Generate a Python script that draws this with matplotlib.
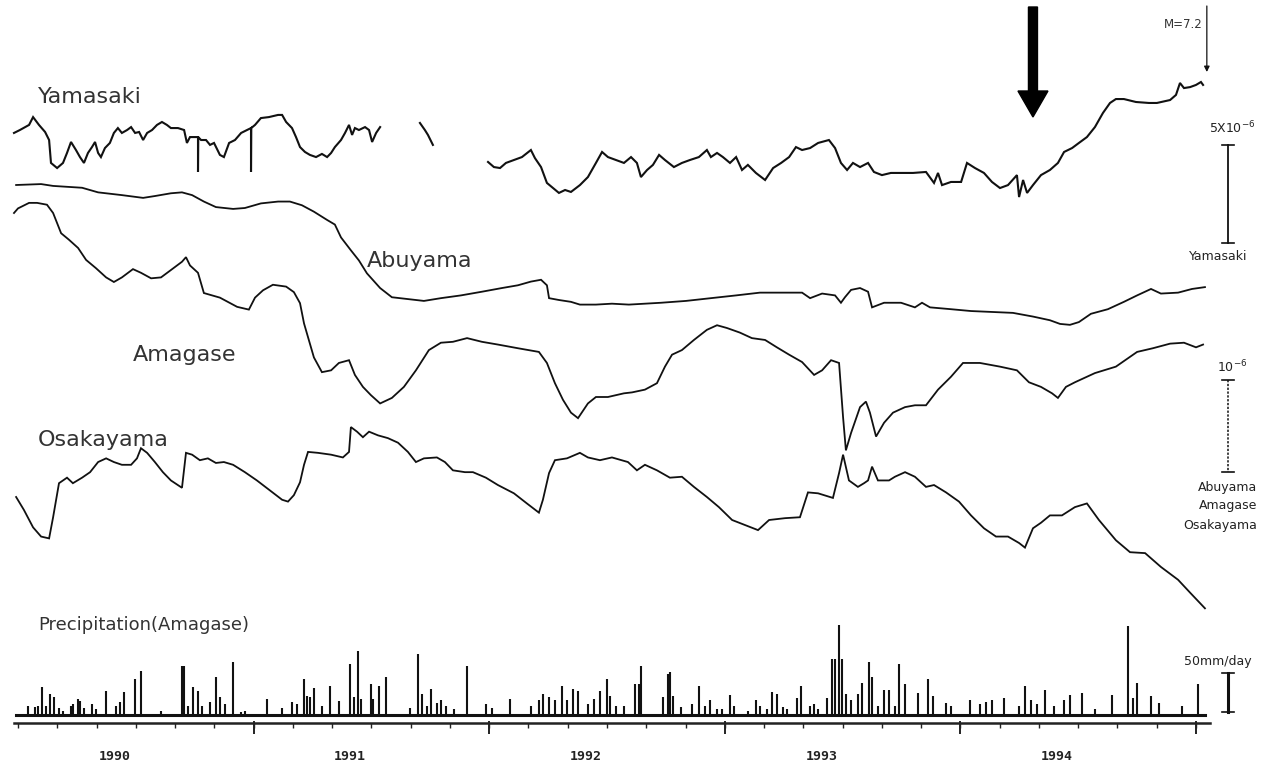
import numpy as np
import matplotlib.pyplot as plt

# strain records before the 1995 Hyogo-ken Nanbu earthquake (M=7.2)
# time in decimal years, strain in units of 1e-6 (relative), rain in mm/day

yamasaki_1 = [
    (1989.983, 1.89), (1990.008, 2.04), (1990.047, 2.30), (1990.064, 2.70), (1990.089, 2.30),
    (1990.115, 1.94), (1990.132, 1.53), (1990.140, 0.36), (1990.166, 0.10), (1990.191, 0.36),
    (1990.208, 0.87), (1990.225, 1.43), (1990.246, 1.02), (1990.263, 0.66), (1990.280, 0.36),
    (1990.297, 0.87), (1990.314, 1.17), (1990.327, 1.43), (1990.340, 0.87), (1990.352, 0.66),
    (1990.369, 1.12), (1990.390, 1.38), (1990.407, 1.89), (1990.424, 2.14), (1990.441, 1.89),
    (1990.463, 2.04), (1990.480, 2.19), (1990.497, 1.89), (1990.514, 1.94), (1990.531, 1.53),
    (1990.548, 1.89), (1990.569, 2.04), (1990.590, 2.30), (1990.611, 2.45), (1990.632, 2.30),
    (1990.649, 2.14), (1990.679, 2.14), (1990.705, 2.04), (1990.717, 1.38), (1990.730, 1.68),
    (1990.751, 1.68), (1990.764, 1.68), (1990.764, -0.10), (1990.765, 1.68), (1990.777, 1.53),
    (1990.798, 1.53), (1990.815, 1.28), (1990.832, 1.38), (1990.857, 0.77), (1990.874, 0.66),
    (1990.896, 1.38), (1990.921, 1.53), (1990.947, 1.89), (1990.972, 2.04), (1990.989, 2.14),
    (1990.989, -0.10), (1990.990, 2.14), (1991.006, 2.30), (1991.031, 2.65), (1991.065, 2.70),
    (1991.104, 2.81), (1991.121, 2.81), (1991.138, 2.45), (1991.163, 2.14), (1991.180, 1.68),
    (1991.197, 1.17), (1991.218, 0.92), (1991.239, 0.77), (1991.265, 0.66), (1991.290, 0.82),
    (1991.312, 0.66), (1991.329, 0.87), (1991.345, 1.17), (1991.371, 1.53), (1991.388, 1.89),
    (1991.405, 2.30), (1991.418, 1.79), (1991.430, 2.14), (1991.447, 2.04), (1991.473, 2.19),
    (1991.490, 2.04), (1991.503, 1.43), (1991.520, 1.89), (1991.537, 2.19),
]
yamasaki_2 = [(1991.706, 2.40), (1991.727, 2.04), (1991.740, 1.79), (1991.761, 1.28)]
yamasaki_3 = [
    (1991.995, 0.41), (1992.020, 0.15), (1992.046, 0.10), (1992.071, 0.36), (1992.105, 0.51),
    (1992.139, 0.66), (1992.177, 1.02), (1992.194, 0.61), (1992.220, 0.15), (1992.245, -0.66),
    (1992.271, -0.92), (1992.296, -1.17), (1992.322, -1.02), (1992.347, -1.12), (1992.385, -0.77),
    (1992.419, -0.36), (1992.453, 0.36), (1992.479, 0.92), (1992.504, 0.66), (1992.538, 0.51),
    (1992.572, 0.36), (1992.602, 0.66), (1992.627, 0.36), (1992.644, -0.36), (1992.670, 0.00),
    (1992.695, 0.26), (1992.721, 0.77), (1992.746, 0.51), (1992.784, 0.15), (1992.818, 0.36),
    (1992.852, 0.51), (1992.890, 0.66), (1992.924, 1.02), (1992.941, 0.66), (1992.967, 0.87),
    (1992.992, 0.66), (1993.022, 0.36), (1993.048, 0.66), (1993.073, 0.00), (1993.098, 0.26),
    (1993.132, -0.15), (1993.171, -0.51), (1993.205, 0.10), (1993.239, 0.36), (1993.273, 0.66),
    (1993.302, 1.17), (1993.328, 1.02), (1993.362, 1.12), (1993.396, 1.38), (1993.442, 1.53),
    (1993.468, 1.12), (1993.493, 0.36), (1993.519, 0.00), (1993.544, 0.36), (1993.574, 0.15),
    (1993.608, 0.36), (1993.633, -0.10), (1993.667, -0.26), (1993.705, -0.15), (1993.748, -0.15),
    (1993.799, -0.15), (1993.854, -0.10), (1993.888, -0.66), (1993.905, -0.15), (1993.922, -0.77),
    (1993.960, -0.61), (1994.003, -0.61), (1994.028, 0.36), (1994.062, 0.10), (1994.100, -0.15),
    (1994.134, -0.61), (1994.168, -0.92), (1994.202, -0.77), (1994.240, -0.26), (1994.249, -1.38),
    (1994.266, -0.51), (1994.283, -1.17), (1994.308, -0.77), (1994.342, -0.26), (1994.380, 0.00),
    (1994.414, 0.36), (1994.440, 0.92), (1994.474, 1.12), (1994.503, 1.38), (1994.537, 1.68),
    (1994.571, 2.19), (1994.605, 2.91), (1994.635, 3.42), (1994.660, 3.62), (1994.694, 3.62),
    (1994.745, 3.47), (1994.800, 3.42), (1994.834, 3.42), (1994.890, 3.57), (1994.915, 3.83),
    (1994.932, 4.44), (1994.949, 4.18), (1994.975, 4.23), (1995.000, 4.34), (1995.021, 4.49),
    (1995.030, 4.34),
]

abuyama = [
    (1989.992, 0.00), (1990.098, 0.01), (1990.149, -0.01), (1990.272, -0.03), (1990.340, -0.08),
    (1990.441, -0.11), (1990.531, -0.14), (1990.581, -0.12), (1990.649, -0.09), (1990.696, -0.08),
    (1990.739, -0.11), (1990.789, -0.18), (1990.840, -0.24), (1990.913, -0.26), (1990.963, -0.25),
    (1991.031, -0.20), (1991.104, -0.18), (1991.154, -0.18), (1991.205, -0.22), (1991.256, -0.29),
    (1991.312, -0.38), (1991.345, -0.43), (1991.371, -0.57), (1991.413, -0.71), (1991.447, -0.82),
    (1991.481, -0.96), (1991.537, -1.12), (1991.587, -1.22), (1991.655, -1.24), (1991.723, -1.26),
    (1991.795, -1.23), (1991.880, -1.20), (1991.969, -1.16), (1992.054, -1.12), (1992.122, -1.09),
    (1992.177, -1.05), (1992.220, -1.03), (1992.245, -1.09), (1992.254, -1.23), (1992.296, -1.25),
    (1992.347, -1.27), (1992.385, -1.30), (1992.453, -1.30), (1992.521, -1.29), (1992.593, -1.30),
    (1992.729, -1.28), (1992.835, -1.26), (1992.941, -1.23), (1993.048, -1.20), (1993.149, -1.17),
    (1993.256, -1.17), (1993.328, -1.17), (1993.362, -1.23), (1993.413, -1.18), (1993.468, -1.20),
    (1993.493, -1.28), (1993.510, -1.22), (1993.536, -1.14), (1993.574, -1.12), (1993.608, -1.16),
    (1993.625, -1.33), (1993.676, -1.28), (1993.748, -1.28), (1993.807, -1.33), (1993.837, -1.28),
    (1993.871, -1.33), (1993.960, -1.35), (1994.045, -1.37), (1994.134, -1.38), (1994.223, -1.39),
    (1994.308, -1.43), (1994.380, -1.47), (1994.423, -1.51), (1994.465, -1.52), (1994.503, -1.49),
    (1994.554, -1.40), (1994.626, -1.35), (1994.694, -1.27), (1994.750, -1.20), (1994.809, -1.13),
    (1994.851, -1.18), (1994.924, -1.17), (1994.983, -1.13), (1995.038, -1.11),
]

amagase = [
    (1989.983, 0.00), (1990.000, 0.05), (1990.047, 0.11), (1990.081, 0.11), (1990.123, 0.09),
    (1990.149, 0.00), (1990.183, -0.22), (1990.216, -0.29), (1990.255, -0.38), (1990.289, -0.51),
    (1990.331, -0.60), (1990.374, -0.70), (1990.407, -0.75), (1990.441, -0.70), (1990.488, -0.61),
    (1990.522, -0.65), (1990.565, -0.71), (1990.607, -0.70), (1990.649, -0.62), (1990.696, -0.53),
    (1990.713, -0.48), (1990.730, -0.57), (1990.764, -0.65), (1990.789, -0.87), (1990.857, -0.92),
    (1990.930, -1.02), (1990.980, -1.05), (1991.006, -0.92), (1991.040, -0.84), (1991.082, -0.78),
    (1991.138, -0.80), (1991.171, -0.86), (1991.197, -0.98), (1991.214, -1.20), (1991.231, -1.35),
    (1991.256, -1.57), (1991.290, -1.73), (1991.329, -1.71), (1991.362, -1.63), (1991.405, -1.60),
    (1991.430, -1.76), (1991.464, -1.89), (1991.498, -1.98), (1991.537, -2.07), (1991.587, -2.01),
    (1991.638, -1.89), (1991.689, -1.71), (1991.744, -1.49), (1991.795, -1.41), (1991.846, -1.40),
    (1991.906, -1.36), (1991.969, -1.40), (1992.037, -1.43), (1992.122, -1.47), (1992.211, -1.51),
    (1992.245, -1.63), (1992.279, -1.85), (1992.313, -2.03), (1992.347, -2.17), (1992.377, -2.23),
    (1992.419, -2.07), (1992.453, -2.00), (1992.504, -2.00), (1992.572, -1.96), (1992.606, -1.95),
    (1992.661, -1.92), (1992.712, -1.85), (1992.746, -1.67), (1992.776, -1.54), (1992.818, -1.49),
    (1992.869, -1.38), (1992.924, -1.27), (1992.967, -1.22), (1993.009, -1.25), (1993.064, -1.30),
    (1993.115, -1.36), (1993.171, -1.38), (1993.221, -1.46), (1993.273, -1.54), (1993.328, -1.62),
    (1993.379, -1.76), (1993.413, -1.71), (1993.451, -1.60), (1993.485, -1.63), (1993.502, -2.22),
    (1993.514, -2.58), (1993.536, -2.39), (1993.574, -2.11), (1993.599, -2.05), (1993.616, -2.17),
    (1993.642, -2.43), (1993.676, -2.28), (1993.714, -2.17), (1993.765, -2.11), (1993.807, -2.09),
    (1993.854, -2.09), (1993.905, -1.92), (1993.960, -1.78), (1994.011, -1.63), (1994.083, -1.63),
    (1994.168, -1.67), (1994.240, -1.71), (1994.291, -1.84), (1994.342, -1.89), (1994.389, -1.96),
    (1994.414, -2.01), (1994.448, -1.89), (1994.486, -1.84), (1994.571, -1.74), (1994.660, -1.67),
    (1994.750, -1.51), (1994.817, -1.47), (1994.890, -1.42), (1994.949, -1.41), (1995.000, -1.46),
    (1995.030, -1.43),
]

osakayama = [
    (1989.992, 0.00), (1990.025, -0.14), (1990.064, -0.33), (1990.098, -0.43), (1990.132, -0.45),
    (1990.149, -0.22), (1990.174, 0.15), (1990.208, 0.21), (1990.233, 0.15), (1990.272, 0.21),
    (1990.306, 0.27), (1990.340, 0.38), (1990.374, 0.42), (1990.407, 0.38), (1990.441, 0.35),
    (1990.480, 0.35), (1990.505, 0.42), (1990.522, 0.53), (1990.548, 0.48), (1990.581, 0.38),
    (1990.615, 0.27), (1990.649, 0.18), (1990.696, 0.10), (1990.713, 0.48), (1990.739, 0.46),
    (1990.772, 0.40), (1990.806, 0.42), (1990.840, 0.37), (1990.874, 0.38), (1990.913, 0.35),
    (1990.963, 0.27), (1991.014, 0.18), (1991.065, 0.08), (1991.121, -0.03), (1991.146, -0.05),
    (1991.171, 0.02), (1991.197, 0.16), (1991.214, 0.35), (1991.231, 0.49), (1991.273, 0.48),
    (1991.329, 0.46), (1991.379, 0.43), (1991.405, 0.49), (1991.413, 0.76), (1991.439, 0.71),
    (1991.464, 0.65), (1991.490, 0.71), (1991.528, 0.67), (1991.570, 0.64), (1991.613, 0.59),
    (1991.655, 0.49), (1991.689, 0.38), (1991.723, 0.42), (1991.778, 0.43), (1991.812, 0.38),
    (1991.846, 0.29), (1991.897, 0.27), (1991.931, 0.27), (1991.986, 0.21), (1992.037, 0.13),
    (1992.105, 0.04), (1992.160, -0.07), (1992.211, -0.17), (1992.228, -0.03), (1992.254, 0.26),
    (1992.279, 0.40), (1992.330, 0.42), (1992.385, 0.48), (1992.419, 0.43), (1992.470, 0.40),
    (1992.521, 0.43), (1992.589, 0.38), (1992.627, 0.29), (1992.661, 0.35), (1992.712, 0.29),
    (1992.767, 0.21), (1992.818, 0.22), (1992.869, 0.11), (1992.924, 0.00), (1992.975, -0.11),
    (1993.031, -0.25), (1993.081, -0.30), (1993.141, -0.36), (1993.188, -0.25), (1993.256, -0.23),
    (1993.319, -0.22), (1993.353, 0.05), (1993.396, 0.04), (1993.459, -0.01), (1993.485, 0.26),
    (1993.502, 0.46), (1993.527, 0.18), (1993.565, 0.11), (1993.591, 0.15), (1993.608, 0.18),
    (1993.625, 0.33), (1993.650, 0.18), (1993.697, 0.18), (1993.722, 0.22), (1993.765, 0.27),
    (1993.807, 0.22), (1993.854, 0.11), (1993.888, 0.13), (1993.939, 0.05), (1993.994, -0.05),
    (1994.045, -0.20), (1994.100, -0.34), (1994.151, -0.43), (1994.202, -0.43), (1994.249, -0.50),
    (1994.274, -0.55), (1994.308, -0.34), (1994.342, -0.28), (1994.380, -0.20), (1994.431, -0.20),
    (1994.486, -0.11), (1994.537, -0.07), (1994.588, -0.25), (1994.660, -0.47), (1994.720, -0.60),
    (1994.784, -0.61), (1994.851, -0.76), (1994.924, -0.90), (1994.975, -1.04), (1995.038, -1.21),
]

rain_amagase = [
    (1990.042, 12), (1990.072, 10), (1990.085, 12), (1990.102, 36), (1990.119, 12), (1990.136, 27),
    (1990.153, 23), (1990.174, 9), (1990.191, 5), (1990.225, 12), (1990.233, 14), (1990.255, 20),
    (1990.263, 18), (1990.280, 9), (1990.314, 14), (1990.331, 8), (1990.374, 31), (1990.416, 12),
    (1990.433, 17), (1990.450, 29), (1990.497, 46), (1990.522, 56), (1990.607, 5), (1990.696, 63),
    (1990.705, 63), (1990.722, 12), (1990.743, 36), (1990.764, 31), (1990.781, 12), (1990.815, 17),
    (1990.840, 49), (1990.857, 23), (1990.879, 14), (1990.913, 68), (1990.947, 4), (1990.963, 5),
    (1991.057, 20), (1991.121, 9), (1991.163, 17), (1991.184, 14), (1991.214, 46), (1991.227, 24),
    (1991.239, 23), (1991.256, 35), (1991.290, 12), (1991.324, 37), (1991.362, 18), (1991.409, 65),
    (1991.426, 23), (1991.443, 82), (1991.456, 20), (1991.498, 40), (1991.507, 20), (1991.532, 37),
    (1991.562, 49), (1991.664, 9), (1991.698, 78), (1991.715, 27), (1991.736, 12), (1991.753, 33),
    (1991.778, 15), (1991.795, 19), (1991.817, 12), (1991.851, 8), (1991.906, 63), (1991.986, 14),
    (1992.012, 9), (1992.088, 20), (1992.177, 12), (1992.211, 19), (1992.228, 27), (1992.254, 23),
    (1992.279, 19), (1992.309, 37), (1992.330, 19), (1992.356, 33), (1992.377, 31), (1992.419, 14),
    (1992.445, 20), (1992.470, 31), (1992.500, 46), (1992.513, 24), (1992.538, 12), (1992.572, 12),
    (1992.619, 40), (1992.636, 40), (1992.644, 63), (1992.738, 23), (1992.759, 52), (1992.767, 55),
    (1992.780, 24), (1992.814, 10), (1992.861, 14), (1992.891, 37), (1992.916, 12), (1992.937, 19),
    (1992.967, 8), (1992.988, 8), (1993.022, 26), (1993.039, 12), (1993.098, 5), (1993.132, 19),
    (1993.149, 12), (1993.179, 8), (1993.200, 29), (1993.222, 27), (1993.247, 10), (1993.264, 8),
    (1993.306, 22), (1993.323, 37), (1993.362, 12), (1993.379, 14), (1993.396, 8), (1993.434, 22),
    (1993.455, 72), (1993.468, 72), (1993.485, 116), (1993.497, 72), (1993.514, 27), (1993.536, 19),
    (1993.565, 27), (1993.582, 41), (1993.612, 68), (1993.625, 49), (1993.650, 12), (1993.676, 32),
    (1993.697, 32), (1993.722, 12), (1993.739, 65), (1993.765, 40), (1993.820, 28), (1993.862, 46),
    (1993.884, 24), (1993.939, 15), (1993.960, 12), (1994.041, 19), (1994.083, 14), (1994.109, 17),
    (1994.134, 19), (1994.185, 22), (1994.249, 12), (1994.274, 37), (1994.300, 19), (1994.325, 14),
    (1994.359, 32), (1994.397, 12), (1994.440, 19), (1994.465, 26), (1994.516, 28), (1994.571, 8),
    (1994.643, 26), (1994.711, 114), (1994.733, 22), (1994.750, 41), (1994.809, 24), (1994.843, 15),
    (1994.941, 12), (1995.008, 40),
]

year_labels = ['1990', '1991', '1992', '1993', '1994']
quake_time = 1995.046      # 17 Jan 1995
quake_label = 'M=7.2'
onset_time = 1994.308      # start of the Yamasaki anomaly

# layout (pixels of the 1267x771 page)
W, H = 1267, 771
X0, PX_YR = 18, 235.6
YAMA_BASE, YAMA_SCALE = 170, 19.6     # px per 1e-6
ABU_BASE, AMA_BASE, OSA_BASE, STRAIN_SCALE = 185, 213, 497, 92
RAIN_BASE, RAIN_SCALE = 715, 0.78     # px per mm/day
AXIS_Y = 723
INK = '#111111'


def px_x(t):
    return X0 + (t - 1990) * PX_YR


fig = plt.figure(figsize=(W / 100, H / 100), dpi=100)
ax = fig.add_axes([0, 0, 1, 1])
ax.set_xlim(1990 - X0 / PX_YR, 1990 + (W - X0) / PX_YR)
ax.set_ylim(H, 0)
ax.axis('off')

traces = [
    (yamasaki_1, YAMA_BASE, YAMA_SCALE, 1.5),
    (yamasaki_2, YAMA_BASE, YAMA_SCALE, 1.5),
    (yamasaki_3, YAMA_BASE, YAMA_SCALE, 1.5),
    (abuyama, ABU_BASE, STRAIN_SCALE, 1.3),
    (amagase, AMA_BASE, STRAIN_SCALE, 1.3),
    (osakayama, OSA_BASE, STRAIN_SCALE, 1.3),
]
for data, base, scale, lw in traces:
    arr = np.array(data)
    ax.plot(arr[:, 0], base - arr[:, 1] * scale, color=INK, lw=lw, solid_joinstyle='miter')

# precipitation
rain = np.array(rain_amagase)
ax.vlines(rain[:, 0], RAIN_BASE, RAIN_BASE - rain[:, 1] * RAIN_SCALE, color=INK, lw=1.5)
ax.plot([1989.99, 1995.04], [RAIN_BASE, RAIN_BASE], color=INK, lw=2.2)

# time axis
ax.plot([1989.985, 1995.06], [AXIS_Y, AXIS_Y], color='#222222', lw=1.8)
ax.vlines(np.arange(1990, 1995.01, 1 / 6), AXIS_Y, AXIS_Y + 5, color='#222222', lw=1.0)
ax.vlines(np.arange(1991, 1996), AXIS_Y - 2, AXIS_Y + 11, color='#222222', lw=1.4)
for i, lab in enumerate(year_labels):
    ax.text(1990 + i + 0.41, 757, lab, ha='center', va='center', fontsize=9.5,
            fontweight='bold', family='DejaVu Sans Mono', color='#222222')

# annotation layer in page pixels
lay = fig.add_axes([0, 0, 1, 1])
lay.set_xlim(0, W)
lay.set_ylim(H, 0)
lay.axis('off')
lay.patch.set_visible(False)

label_kw = dict(fontsize=16, color='#333333', va='center', ha='left')
lay.text(38, 97, 'Yamasaki', **label_kw)
lay.text(367, 261, 'Abuyama', **label_kw)
lay.text(133, 355, 'Amagase', **label_kw)
lay.text(38, 440, 'Osakayama', **label_kw)
lay.text(38, 625, 'Precipitation(Amagase)', fontsize=13, color='#333333', va='center')

# onset arrow
xa = px_x(onset_time)
lay.arrow(xa, 7, 0, 110, width=9, head_width=30, head_length=26,
          length_includes_head=True, color='black')

# earthquake marker
xq = px_x(quake_time)
lay.annotate('', xy=(xq, 72), xytext=(xq, 6),
             arrowprops=dict(arrowstyle='-|>', color=INK, lw=0.9, mutation_scale=8,
                             shrinkA=0, shrinkB=0))
lay.text(xq - 4, 25, quake_label, ha='right', va='center', fontsize=8.5, color='#333333')

# scale bars
XB = 1228


def scale_bar(bottom, length, lw, ls='-'):
    top = bottom - length
    lay.plot([XB, XB], [top, bottom], color=INK, lw=lw, ls=ls)
    lay.plot([XB - 6, XB + 6], [top, top], color=INK, lw=1.2)
    lay.plot([XB - 6, XB + 6], [bottom, bottom], color=INK, lw=1.2)


small = dict(fontsize=9, color='#222222', va='center')
scale_bar(243, 5 * YAMA_SCALE, 1.3)
lay.text(1232, 128, r'5X10$^{-6}$', ha='center', **small)
lay.text(1218, 257, 'Yamasaki', ha='center', **small)

scale_bar(472, 1 * STRAIN_SCALE, 1.1, ls=(0, (1.5, 1)))
lay.text(1232, 367, r'10$^{-6}$', ha='center', **small)
lay.text(1257, 487, 'Abuyama', ha='right', **small)
lay.text(1257, 506, 'Amagase', ha='right', **small)
lay.text(1257, 525, 'Osakayama', ha='right', **small)

scale_bar(712, 50 * RAIN_SCALE, 2.2)
lay.text(1218, 662, '50mm/day', ha='center', **small)

fig.savefig('out.png', dpi=100, facecolor='white')
